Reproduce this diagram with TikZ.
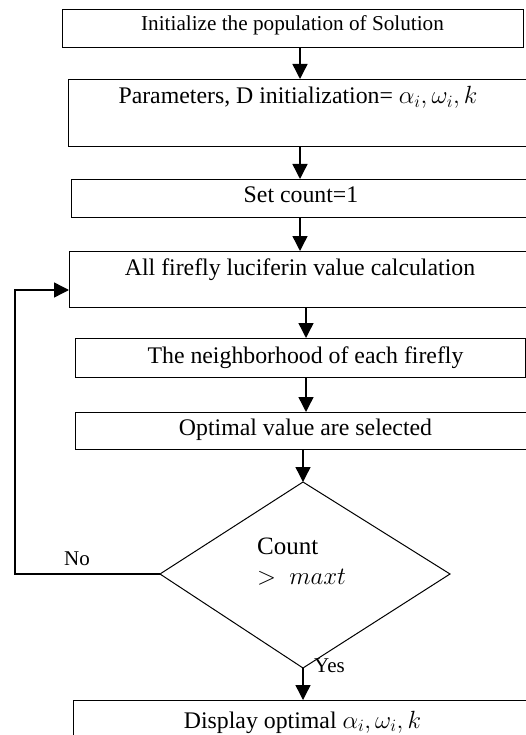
\documentclass[tikz,border=0pt]{standalone}
\usepackage{fontspec}
\setmainfont{Liberation Serif}
\usetikzlibrary{arrows.meta}
\tikzset{
  stepbox/.style={draw, line width=1.4pt, inner sep=0pt, anchor=north west},
  steptext/.style={inner sep=0pt, anchor=base, font=\fontsize{23.8}{27}\selectfont},
  flow/.style={draw, line width=1.4pt, -{Triangle[width=15pt,length=15pt]}},
  decision/.style={draw, line width=1pt},
  tag/.style={inner sep=0pt, anchor=base, font=\fontsize{21}{25}\selectfont}
}
\begin{document}
\begin{tikzpicture}[x=1pt,y=-1pt]
\useasboundingbox (0,0) rectangle (526,735);
\clip (0,0) rectangle (526,735);

% process boxes
\node[stepbox, minimum width=461pt, minimum height=38pt] (b1) at (62,9) {};
\node[stepbox, minimum width=462pt, minimum height=67pt] (b2) at (68,79) {};
\node[stepbox, minimum width=462pt, minimum height=38pt] (b3) at (71,179) {};
\node[stepbox, minimum width=462pt, minimum height=56pt] (b4) at (69,251) {};
\node[stepbox, minimum width=450pt, minimum height=39pt] (b5) at (75,338) {};
\node[stepbox, minimum width=462pt, minimum height=37pt] (b6) at (75,412) {};
\node[stepbox, minimum width=462pt, minimum height=60pt] (b7) at (73,700) {};

% box texts
\node[steptext, font=\fontsize{21.2}{25}\selectfont] (t1) at (292.5,30.5) {Initialize the population of Solution};
\node[steptext] (t2) at (298,104) {Parameters, D initialization= $\alpha_i,\omega_i,k$};
\node[steptext] (t3) at (301,203) {Set count=1};
\node[steptext] (t4) at (300,275) {All firefly luciferin value calculation};
\node[steptext] (t5) at (305.5,363) {The neighborhood of each firefly};
\node[steptext] (t6) at (305.5,435) {Optimal value are selected};
\node[steptext] (t7) at (302.5,728) {Display optimal $\alpha_i,\omega_i,k$};

% decision diamond
\coordinate (dtop) at (303,482);
\coordinate (dleft) at (160,574);
\coordinate (dright) at (450,574);
\coordinate (dbot) at (303,668);
\draw[decision] (dtop) -- (dright) -- (dbot) -- (dleft) -- cycle;
\node[inner sep=0pt, anchor=base west, font=\fontsize{25}{28}\selectfont] (c1) at (257,554) {Count};
\node[inner sep=0pt, anchor=base west, font=\fontsize{25}{28}\selectfont] (c2) at (257,584) {$>\ maxt$};

% connectors
\draw[flow] (b1.south -| 300,0) -- (b2.north -| 300,0);
\draw[flow] (b2.south -| 300,0) -- (b3.north -| 300,0);
\draw[flow] (b3.south -| 300,0) -- (b4.north -| 300,0);
\draw[flow] (b4.south -| 306,0) -- (b5.north -| 306,0);
\draw[flow] (b5.south -| 306,0) -- (b6.north -| 306,0);
\draw[flow] (b6.south -| dtop) -- (dtop);
\draw[flow] (dbot) -- (b7.north -| dbot);
\coordinate (loop) at (15,290);
\draw[flow] (dleft) -- (dleft -| loop) -- (loop) -- (b4.west |- loop);

% branch labels
\node[tag] (no) at (77,565) {No};
\node[tag, anchor=base west] (yes) at (314,672) {Yes};
\end{tikzpicture}
\end{document}
